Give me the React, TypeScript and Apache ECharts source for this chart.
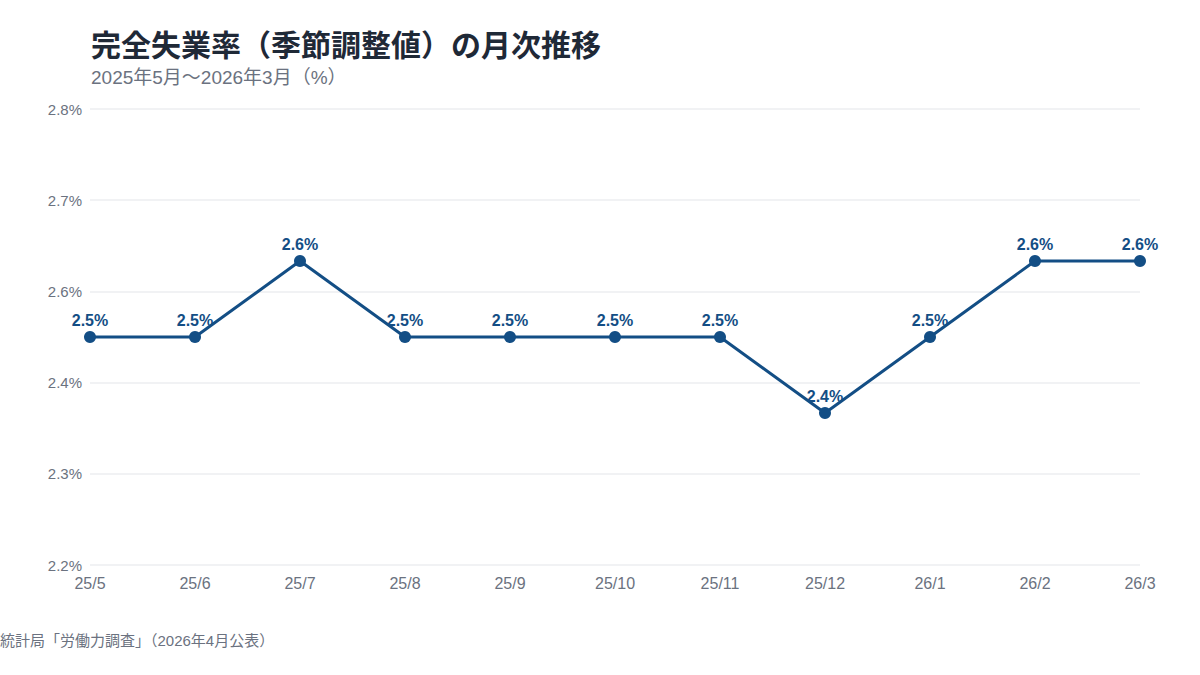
import { useEffect, useRef } from "react";
import * as echarts from "echarts";

const months = ["25/5", "25/6", "25/7", "25/8", "25/9", "25/10", "25/11", "25/12", "26/1", "26/2", "26/3"];
const rates = [2.5, 2.5, 2.6, 2.5, 2.5, 2.5, 2.5, 2.4, 2.5, 2.6, 2.6];
// 縦軸は 2.2〜2.8 を5等分した目盛り
const yTicks = [2.2, 2.32, 2.44, 2.56, 2.68, 2.8];

const FONT = "'Liberation Sans', 'Noto Sans CJK JP', sans-serif";
const LINE = "#134e85";
const MUTED = "#6b7280";

export default function App() {
  const ref = useRef<HTMLDivElement | null>(null);

  useEffect(() => {
    if (!ref.current) {
      return;
    }
    const chart = echarts.init(ref.current, null, { renderer: "svg" });
    chart.setOption({
      animation: false,
      backgroundColor: "#ffffff",
      textStyle: { fontFamily: FONT },
      title: {
        text: "完全失業率（季節調整値）の月次推移",
        subtext: "2025年5月〜2026年3月（%）",
        left: 86,
        top: 25,
        itemGap: 8,
        textStyle: { fontSize: 30, fontWeight: "bold", color: "#1f2937", fontFamily: FONT },
        subtextStyle: { fontSize: 19, color: MUTED, fontFamily: FONT }
      },
      grid: { left: 90, right: 60, top: 109, bottom: 110 },
      xAxis: {
        type: "category",
        data: months,
        boundaryGap: false,
        axisLine: { show: false },
        axisTick: { show: false },
        axisLabel: { color: MUTED, fontSize: 16, margin: 10, fontFamily: FONT }
      },
      yAxis: {
        type: "value",
        min: 2.2,
        max: 2.8,
        axisLine: { show: false },
        axisTick: { show: false, customValues: yTicks },
        axisLabel: {
          customValues: yTicks,
          color: MUTED,
          fontSize: 15,
          margin: 8,
          fontFamily: FONT,
          formatter: (v: number) => `${v.toFixed(1)}%`
        },
        splitLine: { lineStyle: { color: "#eceef1", width: 1.5 } }
      },
      series: [
        {
          type: "line",
          data: rates,
          symbol: "circle",
          symbolSize: 12,
          lineStyle: { width: 3, color: LINE },
          itemStyle: { color: LINE },
          label: {
            show: true,
            position: "top",
            distance: 3,
            color: LINE,
            fontSize: 16,
            fontWeight: "bold",
            fontFamily: FONT,
            formatter: (p: { value: number }) => `${p.value.toFixed(1)}%`
          }
        }
      ],
      graphic: [
        {
          type: "text",
          left: 0,
          top: 633,
          style: {
            text: "統計局「労働力調査」（2026年4月公表）",
            fontSize: 15,
            fill: MUTED,
            fontFamily: FONT
          }
        }
      ]
    });
    return () => {
      chart.dispose();
    };
  }, []);

  return (
    <div
      ref={ref}
      style={{ position: "fixed", left: 0, top: 0, width: 1200, height: 675 }}
    />
  );
}
